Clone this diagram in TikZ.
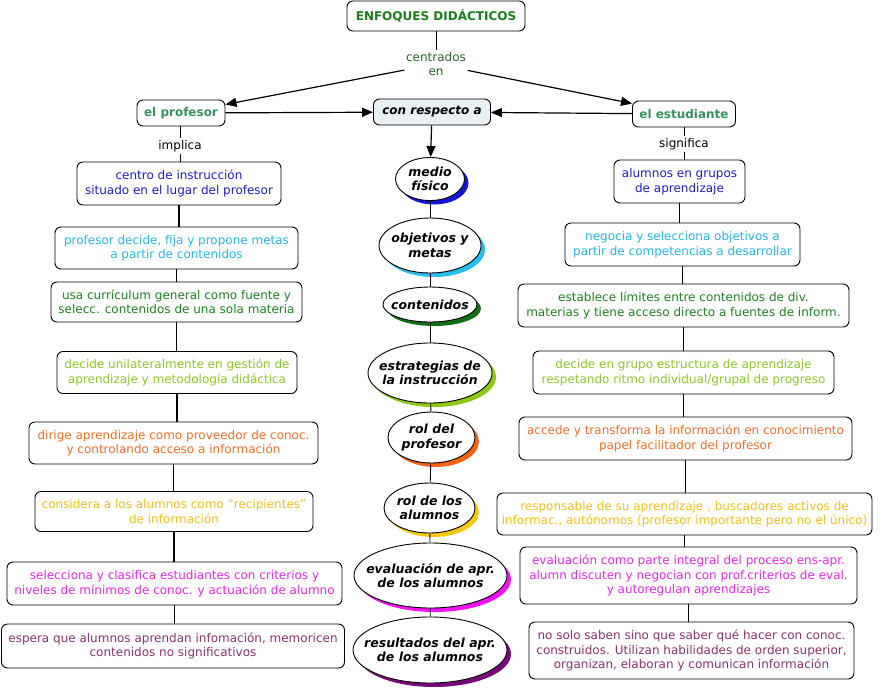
\documentclass[tikz,border=0pt]{standalone}
\usepackage{fontspec}
\setmainfont{DejaVu Sans}
\usetikzlibrary{shapes.geometric,shadows,arrows.meta}
\definecolor{cTitle}{RGB}{25,125,25}
\definecolor{cDark}{RGB}{40,100,40}
\definecolor{cSea}{RGB}{55,145,95}
\definecolor{cFill}{RGB}{232,240,244}
\definecolor{cBlue}{RGB}{30,30,200}
\definecolor{cCyan}{RGB}{40,180,230}
\definecolor{cGreen}{RGB}{30,130,30}
\definecolor{cYG}{RGB}{140,200,40}
\definecolor{cOrange}{RGB}{240,110,40}
\definecolor{cGold}{RGB}{245,190,30}
\definecolor{cMag}{RGB}{230,40,230}
\definecolor{cPurple}{RGB}{140,50,110}
\definecolor{sBlue}{RGB}{20,20,210}
\definecolor{sCyan}{RGB}{40,190,240}
\definecolor{sGreen}{RGB}{20,110,20}
\definecolor{sYG}{RGB}{140,200,20}
\definecolor{sOrange}{RGB}{240,100,20}
\definecolor{sGold}{RGB}{245,200,20}
\definecolor{sMag}{RGB}{240,20,240}
\definecolor{sPurple}{RGB}{120,10,120}
\begin{document}
\begin{tikzpicture}[x=1pt,y=-1pt,
  every node/.style={font=\fontsize{12}{14.5}\selectfont},
  box/.style={draw, rounded corners=6pt, align=center, inner sep=0pt, line width=0.9pt, fill=white},
  bftext/.style={font=\fontsize{12}{14.5}\selectfont\bfseries},
  bitext/.style={font=\fontsize{12}{14.5}\selectfont\bfseries\itshape},
  ell/.style={ellipse, draw, fill=white, inner sep=0pt, line width=0.9pt,
    drop shadow={shadow xshift=4pt, shadow yshift=-4pt, fill=#1, opacity=1}},
  elltext/.style={font=\fontsize{12.5}{14.5}\selectfont\bfseries\itshape, align=center, inner sep=0pt},
  conn/.style={line width=1.7pt},
  thin/.style={line width=0.9pt},
  arr/.style={line width=1.2pt, -{Triangle[length=11pt,width=9pt]}},
  lbl/.style={align=center, inner sep=1.5pt}
]
\useasboundingbox (0,0) rectangle (884,694);

% top
\node[box, bftext, text=cTitle, minimum width=178, minimum height=30] (t) at (436,16) {ENFOQUES DIDÁCTICOS};
\node[lbl, text=cDark] (ce) at (436,64) {centrados\\en};
\node[box, bftext, text=cSea, minimum width=88, minimum height=26] (prof) at (181,113) {el profesor};
\node[box, bitext, fill=cFill, minimum width=117, minimum height=26] (cra) at (432,112) {con respecto a};
\node[box, bftext, text=cSea, minimum width=103, minimum height=26] (est) at (684,114) {el estudiante};
\node[lbl] (impl) at (180,146) {implica};
\node[lbl] (sig) at (684,144) {significa};

% left column
\node[box, text=cBlue, minimum width=204, minimum height=43] (L1) at (179,183.5) {centro de instrucción\\situado en el lugar del profesor};
\node[box, text=cCyan, minimum width=243, minimum height=42] (L2) at (176.5,248) {profesor decide, fija y propone metas\\a partir de contenidos};
\node[box, text=cGreen, minimum width=251, minimum height=40] (L3) at (176.5,302) {usa currículum general como fuente y\\selecc. contenidos de una sola materia};
\node[box, text=cYG, minimum width=240, minimum height=42] (L4) at (177,372.5) {decide unilateralmente en gestión de\\aprendizaje y metodología didáctica};
\node[box, text=cOrange, minimum width=289, minimum height=42] (L5) at (173.5,443) {dirige aprendizaje como proveedor de conoc.\\y controlando acceso a información};
\node[box, text=cGold, minimum width=278, minimum height=40] (L6) at (174,511.5) {considera a los alumnos como \symbol{34}recipientes\symbol{34}\\de información};
\node[box, text=cMag, minimum width=335, minimum height=43] (L7) at (174.5,583.5) {selecciona y clasifica estudiantes con criterios y\\niveles de mínimos de conoc. y actuación de alumno};
\node[box, text=cPurple, minimum width=343, minimum height=44] (L8) at (173,646) {espera que alumnos aprendan infomación, memoricen\\contenidos no significativos};

% middle column
\node[ell=sBlue, minimum width=69, minimum height=43, label={[elltext]center:medio\\físico}] (e1) at (430,179) {};
\node[ell=sCyan, minimum width=102, minimum height=55, label={[elltext]center:objetivos y\\metas}] (e2) at (430,245.5) {};
\node[ell=sGreen, minimum width=94, minimum height=35, label={[elltext]center:contenidos}] (e3) at (430,304.5) {};
\node[ell=sYG, minimum width=124, minimum height=60, label={[elltext]center:estrategias de\\la instrucción}] (e4) at (430,373) {};
\node[ell=sOrange, minimum width=87, minimum height=51, label={[elltext]center:rol del\\profesor}] (e5) at (431.5,437.5) {};
\node[ell=sGold, minimum width=91, minimum height=50, label={[elltext]center:rol de los\\alumnos}] (e6) at (429.5,508) {};
\node[ell=sMag, minimum width=153, minimum height=65, label={[elltext]center:evaluación de apr.\\de los alumnos}] (e7) at (430.5,575.5) {};
\node[ell=sPurple, minimum width=154, minimum height=66, label={[elltext]center:resultados del apr.\\de los alumnos}] (e8) at (430,650) {};

% right column
\node[box, text=cBlue, minimum width=131, minimum height=43] (R1) at (679.5,181.5) {alumnos en grupos\\de aprendizaje};
\node[box, text=cCyan, minimum width=235, minimum height=43] (R2) at (682.5,244.5) {negocia y selecciona objetivos a\\partir de competencias a desarrollar};
\node[box, text=cGreen, minimum width=331, minimum height=43] (R3) at (683.5,305.5) {establece límites entre contenidos de div.\\materias y tiene acceso directo a fuentes de inform.};
\node[box, text=cYG, minimum width=301, minimum height=43] (R4) at (683.5,372.5) {decide en grupo estructura de aprendizaje\\respetando ritmo individual/grupal de progreso};
\node[box, text=cOrange, minimum width=333, minimum height=43] (R5) at (685.5,438.5) {accede y transforma la información en conocimiento\\papel facilitador del profesor};
\node[box, text=cGold, minimum width=375, minimum height=42] (R6) at (684.5,514) {responsable de su aprendizaje , buscadores activos de\\informac., autónomos (profesor importante pero no el único)};
\node[box, text=cMag, minimum width=337, minimum height=57] (R7) at (688.5,575.5) {evaluación como parte integral del proceso ens-apr.\\alumn discuten y negocian con prof.criterios de eval.\\y autoregulan aprendizajes};
\node[box, text=cPurple, minimum width=325, minimum height=57] (R8) at (691.5,650.5) {no solo saben sino que saber qué hacer con conoc.\\construidos. Utilizan habilidades de orden superior,\\organizan, elaboran y comunican información};

% connectors top
\draw[thin] (t) -- (ce);
\draw[arr] (ce) -- (prof);
\draw[arr] (ce) -- (est);
\draw[arr] (prof) -- (cra);
\draw[arr] (est) -- (cra);
\draw[arr] (cra) -- (e1);
\draw[thin] (prof.south -| impl) -- (impl);
\draw[thin] (impl) -- (impl |- L1.north);
\draw[thin] (est.south -| sig) -- (sig);
\draw[thin] (sig) -- (sig |- R1.north);

% column connectors
\foreach \a/\b in {L1/L2,L2/L3,L3/L4,L4/L5,L5/L6,L6/L7,L7/L8}
  \draw[conn] (\a.south) -- (\a.south |- \b.north);
\foreach \a/\b in {e1/e2,e2/e3,e3/e4,e4/e5,e5/e6,e6/e7,e7/e8}
  \draw[thin] (\a) -- (\b);
\foreach \a/\b in {R1/R2,R2/R3,R3/R4,R4/R5,R5/R6,R6/R7,R7/R8}
  \draw[conn] (\a.south) -- (\a.south |- \b.north);
\end{tikzpicture}
\end{document}
